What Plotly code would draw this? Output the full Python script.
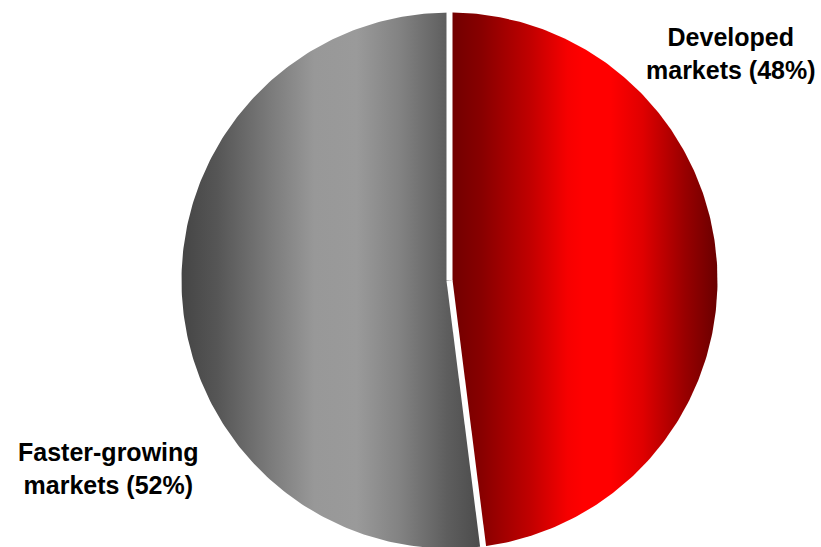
import numpy as np
import plotly.graph_objects as go

# Market split
categories = ["Developed markets", "Faster-growing markets"]
shares = [48, 52]
label_text = ["Developed<br>markets (48%)", "Faster-growing<br>markets (52%)"]

W, H = 821, 547
CX, CY, R = 449.5, 280.5, 268.0

# horizontal gradients: dark edges, broad bright middle
gradients = [
    [[0.0, "#700000"], [0.12, "#880000"], [0.30, "#c00000"], [0.44, "#f60000"],
     [0.50, "#ff0000"], [0.60, "#ff0000"], [0.72, "#e00000"], [0.88, "#980000"], [1.0, "#6a0000"]],
    [[0.0, "#454545"], [0.12, "#565656"], [0.30, "#7c7c7c"], [0.44, "#989898"],
     [0.58, "#9a9a9a"], [0.72, "#838383"], [0.88, "#5e5e5e"], [1.0, "#4a4a4a"]],
]


def wedge(a0, a1, n=240):
    """Polygon for a slice between angles a0..a1 (degrees clockwise from 12 o'clock)."""
    t = np.radians(np.linspace(a0, a1, n))
    xs = np.concatenate([[CX], CX + R * np.sin(t), [CX]])
    ys = np.concatenate([[CY], CY - R * np.cos(t), [CY]])
    return xs, ys


fig = go.Figure()

total = sum(shares)
start = 0.0
bounds = [0.0]
for name, val, grad in zip(categories, shares, gradients):
    end = start + 360.0 * val / total
    xs, ys = wedge(start, end)
    fig.add_trace(go.Scatter(
        x=xs, y=ys, mode="lines", fill="toself",
        line=dict(width=0, color="rgba(0,0,0,0)"),
        fillgradient=dict(type="horizontal", colorscale=grad),
        name=name, hoverinfo="name",
    ))
    start = end
    bounds.append(end)

# white separators between slices
sep_x, sep_y = [], []
for a in bounds[:-1]:
    t = np.radians(a)
    sep_x += [CX, CX + (R + 4) * np.sin(t), None]
    sep_y += [CY, CY - (R + 4) * np.cos(t), None]
fig.add_trace(go.Scatter(x=sep_x, y=sep_y, mode="lines",
                         line=dict(color="white", width=6), hoverinfo="skip"))

label_pos = [(731, 53), (108, 468)]
for txt, (lx, ly) in zip(label_text, label_pos):
    fig.add_annotation(x=lx, y=ly, xref="x", yref="y", text=f"<b>{txt}</b>",
                       showarrow=False, xanchor="center", yanchor="middle",
                       align="center",
                       font=dict(family="Liberation Sans, Arial", size=25, color="#000000"))

fig.update_layout(
    width=W, height=H, margin=dict(l=0, r=0, t=0, b=0),
    paper_bgcolor="white", plot_bgcolor="white", showlegend=False,
    xaxis=dict(range=[0, W], visible=False, fixedrange=True),
    yaxis=dict(range=[H, 0], visible=False, fixedrange=True),
)

fig.write_html("out.html")
